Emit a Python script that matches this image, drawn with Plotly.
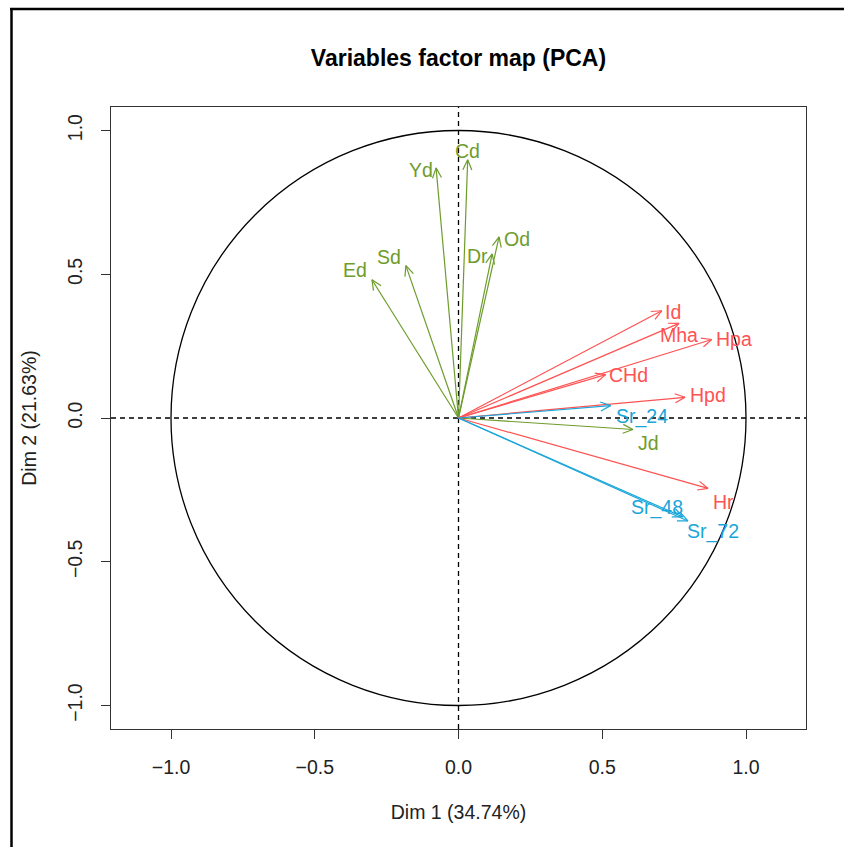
import numpy as np
import plotly.graph_objects as go

# PCA variable coordinates on the first two dimensions
variables = ["Cd", "Yd", "Od", "Dr", "Sd", "Ed", "Jd",
             "Id", "Mha", "Hpa", "CHd", "Hpd", "Hr",
             "Sr_24", "Sr_48", "Sr_72"]
dim1 = [0.032, -0.078, 0.141, 0.117, -0.183, -0.301, 0.607,
        0.707, 0.767, 0.881, 0.512, 0.788, 0.868,
        0.529, 0.780, 0.798]
dim2 = [0.898, 0.870, 0.630, 0.571, 0.530, 0.481, -0.040,
        0.373, 0.329, 0.273, 0.151, 0.072, -0.245,
        0.043, -0.344, -0.358]
groups = ["g1"] * 7 + ["g2"] * 6 + ["g3"] * 3

title = "Variables factor map (PCA)"
xlab = "Dim 1 (34.74%)"
ylab = "Dim 2 (21.63%)"
tick_vals = [-1.0, -0.5, 0.0, 0.5, 1.0]
tick_text = ["\u22121.0", "\u22120.5", "0.0", "0.5", "1.0"]

# styling
group_colors = {"g1": "#6E9C2C", "g2": "#FF5252", "g3": "#1BA6D9"}
label_offsets = {  # pixel offsets of each label from its arrow tip (right, down)
    "Cd": (0, -9), "Yd": (-15, 2), "Od": (18, 2), "Dr": (-15, 2),
    "Sd": (-17, -9), "Ed": (-17, -10), "Jd": (15, 13), "Id": (11, 1),
    "Mha": (0, 12), "Hpa": (22, -1), "CHd": (23, 0), "Hpd": (23, -2),
    "Hr": (15, 14), "Sr_24": (31, 11), "Sr_48": (-26, -9), "Sr_72": (25, 11),
}
W, H = 844, 847
ML, MR, MT, MB = 111, 38, 107, 118
pw, ph = W - ML - MR, H - MT - MB
px_per_unit = 287.5
xr = pw / px_per_unit / 2
yr = ph / px_per_unit / 2
head_len = 11 / px_per_unit
head_ang = np.deg2rad(24)
font = "Liberation Sans, Arial, sans-serif"

fig = go.Figure()

for name, x, y, g in zip(variables, dim1, dim2, groups):
    col = group_colors[g]
    ang = np.arctan2(y, x)
    xs = [0, x, None]
    ys = [0, y, None]
    for s in (1, -1):
        a = ang + np.pi + s * head_ang
        xs += [x, x + head_len * np.cos(a), None]
        ys += [y, y + head_len * np.sin(a), None]
    fig.add_trace(go.Scatter(x=xs, y=ys, mode="lines",
                             line=dict(color=col, width=1.2),
                             hoverinfo="skip", showlegend=False))
    dx, dy = label_offsets[name]
    fig.add_annotation(x=x, y=y, text=name, showarrow=False,
                       xanchor="center", yanchor="middle",
                       xshift=dx, yshift=-dy,
                       font=dict(family=font, size=19.5, color=col))

# unit circle and reference lines
fig.add_shape(type="circle", xref="x", yref="y", x0=-1, y0=-1, x1=1, y1=1,
              line=dict(color="black", width=1.3), layer="below")
fig.add_shape(type="line", xref="x", yref="paper", x0=0, x1=0, y0=0, y1=1,
              line=dict(color="black", width=1.3, dash="5px,4px"), layer="below")
fig.add_shape(type="line", xref="paper", yref="y", x0=0, x1=1, y0=0, y1=0,
              line=dict(color="black", width=1.3, dash="5px,4px"), layer="below")

# outer frame (top and left edges)
def px_to_paper_x(p):
    return (p - ML) / pw

def px_to_paper_y(p):
    return (H - MB - p) / ph

fig.add_shape(type="line", xref="paper", yref="paper",
              x0=px_to_paper_x(10), x1=px_to_paper_x(W + 5),
              y0=px_to_paper_y(9), y1=px_to_paper_y(9),
              line=dict(color="black", width=2.5))
fig.add_shape(type="line", xref="paper", yref="paper",
              x0=px_to_paper_x(11.5), x1=px_to_paper_x(11.5),
              y0=px_to_paper_y(8), y1=px_to_paper_y(H + 5),
              line=dict(color="black", width=2.5))

axis_common = dict(showgrid=False, zeroline=False, showline=True, mirror=True,
                   linecolor="#333333", linewidth=1.2, ticks="outside",
                   ticklen=9, tickwidth=1.2, tickcolor="#333333",
                   tickvals=tick_vals, ticktext=tick_text,
                   tickfont=dict(family=font, size=19.5, color="#222222"))

fig.update_layout(
    width=W, height=H,
    margin=dict(l=ML, r=MR, t=MT, b=MB),
    paper_bgcolor="white", plot_bgcolor="white",
    title=dict(text="<b>" + title + "</b>", x=(ML + pw / 2) / W, xanchor="center",
               y=1 - 58 / H, yanchor="middle",
               font=dict(family=font, size=23, color="black")),
    xaxis=dict(range=[-xr, xr], ticklabelstandoff=11,
               title=dict(text=xlab, standoff=28,
                          font=dict(family=font, size=19.5, color="#222222")),
               **axis_common),
    yaxis=dict(range=[-yr, yr], tickangle=-90, ticklabelstandoff=11,
               title=dict(text=ylab, standoff=22,
                          font=dict(family=font, size=19.5, color="#222222")),
               **axis_common),
)

fig.write_html("out.html")
